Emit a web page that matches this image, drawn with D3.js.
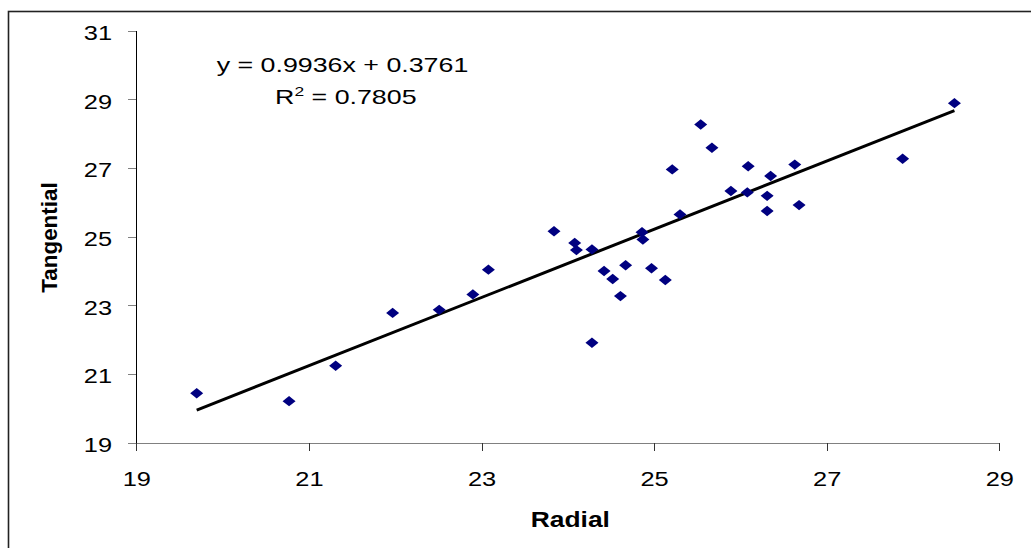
<!DOCTYPE html>
<html>
<head>
<meta charset="utf-8">
<script src="https://cdn.jsdelivr.net/npm/d3@7"></script>
<style>
  body { margin: 0; background: #fff; }
  svg text { font-family: "Liberation Sans", Arial, sans-serif; fill: #000; }
</style>
</head>
<body>
<div id="main"></div>
<script>
var radial = [19.70, 20.77, 21.31, 21.97, 22.51, 22.90, 23.08, 23.84, 24.08, 24.10,
              24.28, 24.28, 24.42, 24.52, 24.61, 24.67, 24.86, 24.87, 24.97, 25.13,
              25.21, 25.30, 25.54, 25.67, 25.89, 26.09, 26.08, 26.31, 26.31, 26.35,
              26.63, 26.68, 27.88, 28.48];
var tangential = [20.44, 20.21, 21.24, 22.78, 22.87, 23.32, 24.04, 25.16, 24.82, 24.61,
                  24.63, 21.91, 24.00, 23.77, 23.27, 24.17, 25.13, 24.92, 24.08, 23.74,
                  26.96, 25.65, 28.27, 27.59, 26.33, 27.05, 26.29, 26.19, 25.75, 26.77,
                  27.10, 25.92, 27.27, 28.89];
var xTicks = [19, 21, 23, 25, 27, 29];
var yTicks = [19, 21, 23, 25, 27, 29, 31];
var slope = 0.9936, intercept = 0.3761;
var eqLabel = 'y = 0.9936x + 0.3761';
var r2Label = '0.7805';

var W = 1031, H = 548;
var margin = {top: 30.7, left: 136.3};
var plotW = 863, plotH = 412;

var svg = d3.select('#main').append('svg')
    .attr('width', W)
    .attr('height', H);

// outer chart border (right/bottom edges fall outside the picture)
svg.append('rect')
    .attr('x', 8.5).attr('y', 11.5)
    .attr('width', W + 10).attr('height', H + 10)
    .attr('fill', 'none')
    .attr('stroke', '#222')
    .attr('stroke-width', 1.6);

var g = svg.append('g')
    .attr('transform', 'translate(' + margin.left + ',' + margin.top + ')');

var x = d3.scaleLinear().domain([19, 29]).range([0, plotW]);
var y = d3.scaleLinear().domain([19, 31]).range([plotH, 0]);

var xAxis = g.append('g')
    .attr('class', 'x-axis')
    .attr('transform', 'translate(0,' + plotH + ')')
    .call(d3.axisBottom(x).tickValues(xTicks).tickSize(8).tickSizeOuter(0).tickFormat(d3.format('d')));
xAxis.select('.domain').attr('stroke', '#808080').attr('stroke-width', 1.4);
xAxis.selectAll('.tick line').attr('stroke', '#333');
xAxis.selectAll('.tick text')
    .attr('y', 43).attr('dy', null)
    .attr('font-size', 20.5)
    .attr('transform', 'scale(1.24,1)');

var yAxis = g.append('g')
    .attr('class', 'y-axis')
    .call(d3.axisLeft(y).tickValues(yTicks).tickSize(8).tickSizeOuter(0).tickFormat(d3.format('d')));
yAxis.select('.domain').attr('stroke', '#000').attr('stroke-width', 1.2);
yAxis.selectAll('.tick line').attr('stroke', '#808080').attr('stroke-width', 1.2);
yAxis.selectAll('.tick text')
    .attr('x', -19.6).attr('dy', null).attr('y', 8.8)
    .attr('font-size', 20.5)
    .attr('transform', 'scale(1.24,1)');
svg.selectAll('.domain, .tick line').attr('shape-rendering', 'crispEdges');
svg.selectAll('.x-axis, .y-axis').attr('font-family', null);

// trendline over the data range
var xMin = d3.min(radial), xMax = d3.max(radial);
var line = d3.line().x(d => x(d[0])).y(d => y(d[1]));
g.append('path')
    .datum([[xMin, slope * xMin + intercept], [xMax, slope * xMax + intercept]])
    .attr('d', line)
    .attr('fill', 'none')
    .attr('stroke', '#000')
    .attr('stroke-width', 3);

// diamond markers
var points = radial.map((r, i) => [r, tangential[i]]);
g.selectAll('path.pt')
    .data(points)
    .enter()
    .append('path')
    .attr('class', 'pt')
    .attr('d', 'M0,-5.2L6.5,0L0,5.2L-6.5,0Z')
    .attr('transform', d => 'translate(' + x(d[0]) + ',' + y(d[1]) + ')')
    .attr('fill', '#000080');

// equation labels
svg.append('text')
    .attr('transform', 'translate(342.5,71.7) scale(1.34,1)')
    .attr('text-anchor', 'middle')
    .attr('font-size', 20)
    .text(eqLabel);

var r2 = svg.append('text')
    .attr('transform', 'translate(345.8,104) scale(1.34,1)')
    .attr('text-anchor', 'middle')
    .attr('font-size', 20);
r2.append('tspan').text('R');
r2.append('tspan').attr('font-size', 13).attr('dy', -8).text('2');
r2.append('tspan').attr('dy', 8).text(' = ' + r2Label);

// axis titles
svg.append('text')
    .attr('transform', 'translate(570.3,526.7) scale(1.2,1)')
    .attr('text-anchor', 'middle')
    .attr('font-size', 22)
    .attr('font-weight', 'bold')
    .text('Radial');

svg.append('text')
    .attr('transform', 'translate(56.7,237.5) rotate(-90)')
    .attr('text-anchor', 'middle')
    .attr('font-size', 22.4)
    .attr('font-weight', 'bold')
    .text('Tangential');
</script>
</body>
</html>
